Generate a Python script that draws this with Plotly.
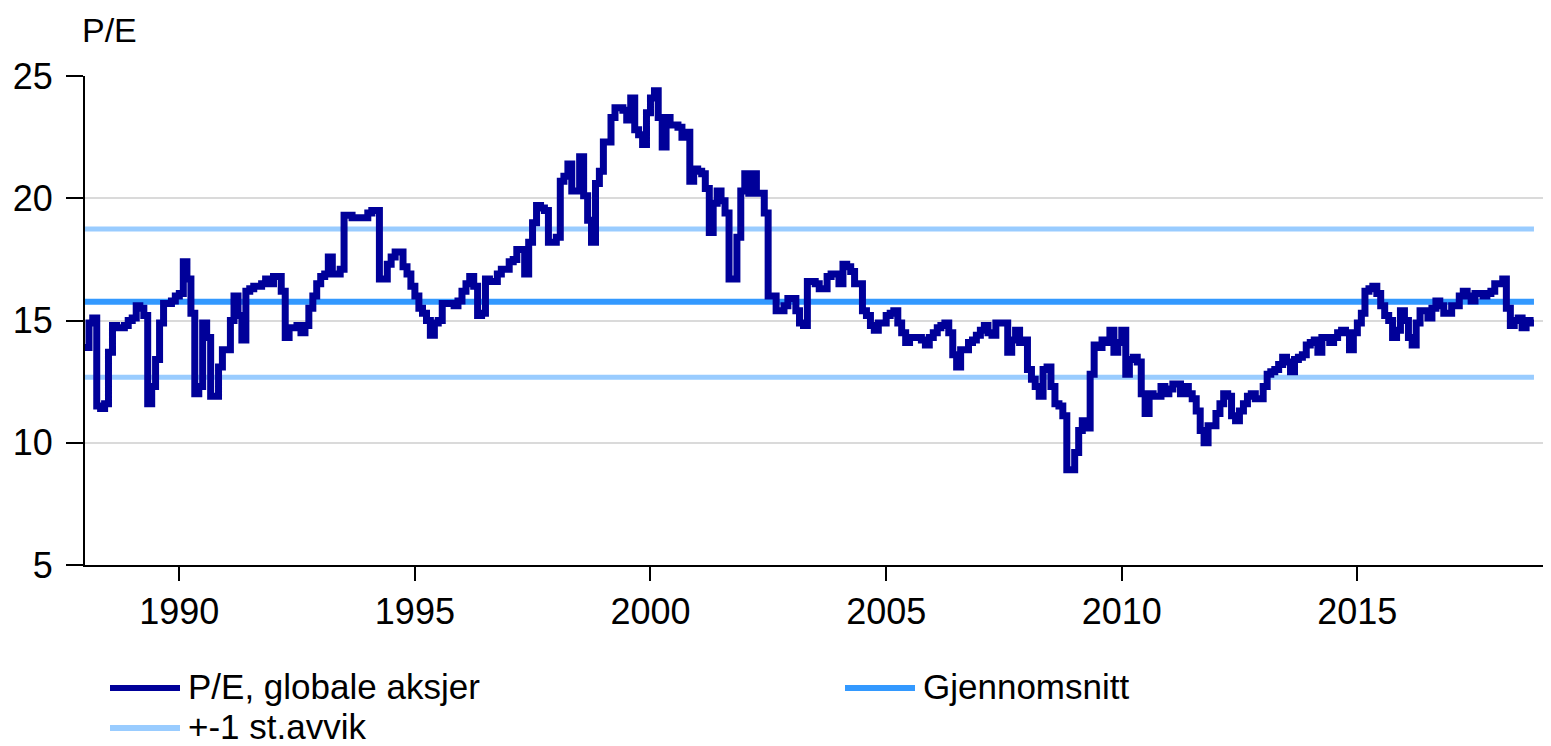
import pandas as pd
import plotly.graph_objects as go

# P/E, globale aksjer - monthly, Jan 1988 .. Oct 2018
pe_values = [
    13.9, 14.9, 15.1, 11.5, 11.4, 11.6, 13.7, 14.8, 14.7, 14.7, 14.8, 15.0,  # 1988
    15.1, 15.6, 15.5, 15.2, 11.6, 12.3, 13.4, 14.9, 15.7, 15.7, 15.8, 16.0,  # 1989
    16.1, 17.4, 16.7, 15.3, 12.0, 12.3, 14.9, 14.3, 11.9, 11.9, 13.1, 13.8,  # 1990
    13.8, 15.0, 16.0, 15.2, 14.2, 16.2, 16.3, 16.4, 16.4, 16.5, 16.7, 16.5,  # 1991
    16.8, 16.8, 16.2, 14.3, 14.7, 14.7, 14.8, 14.5, 14.8, 15.5, 16.0, 16.5,  # 1992
    16.8, 16.9, 17.6, 16.9, 16.9, 17.1, 19.3, 19.3, 19.2, 19.2, 19.2, 19.2,  # 1993
    19.4, 19.5, 19.5, 16.7, 16.7, 17.3, 17.6, 17.8, 17.8, 17.2, 16.9, 16.4,  # 1994
    16.0, 15.5, 15.3, 15.0, 14.4, 14.9, 15.0, 15.7, 15.7, 15.7, 15.6, 15.8,  # 1995
    16.2, 16.5, 16.8, 16.4, 15.2, 15.3, 16.7, 16.6, 16.6, 16.9, 17.1, 17.1,  # 1996
    17.4, 17.5, 17.9, 17.9, 16.9, 18.2, 19.0, 19.7, 19.6, 19.5, 18.2, 18.2,  # 1997
    18.4, 20.7, 20.9, 21.4, 20.3, 20.3, 21.7, 20.1, 19.1, 18.2, 20.6, 21.1,  # 1998
    22.3, 22.3, 23.3, 23.7, 23.7, 23.6, 23.2, 24.1, 22.8, 22.6, 22.2, 23.5,  # 1999
    24.1, 24.4, 23.3, 22.1, 23.3, 23.0, 23.0, 22.9, 22.5, 22.7, 20.7, 21.2,  # 2000
    21.1, 21.0, 20.4, 18.6, 19.8, 20.3, 19.9, 19.4, 16.7, 16.7, 18.4, 20.3,  # 2001
    21.0, 20.2, 21.0, 20.2, 20.2, 19.4, 16.0, 16.0, 15.4, 15.4, 15.6, 15.9,  # 2002
    15.9, 15.4, 14.9, 14.8, 16.6, 16.6, 16.5, 16.3, 16.3, 16.8, 16.9, 16.9,  # 2003
    16.5, 17.3, 17.2, 17.0, 16.5, 16.5, 15.4, 15.2, 14.8, 14.6, 14.9, 14.9,  # 2004
    15.2, 15.3, 15.4, 14.9, 14.5, 14.1, 14.3, 14.3, 14.3, 14.2, 14.0, 14.3,  # 2005
    14.5, 14.7, 14.8, 14.9, 14.5, 13.6, 13.1, 13.8, 13.8, 14.1, 14.2, 14.4,  # 2006
    14.6, 14.8, 14.5, 14.4, 14.9, 14.9, 14.9, 13.7, 14.2, 14.6, 14.1, 14.2,  # 2007
    13.0, 12.6, 12.3, 11.9, 13.0, 13.1, 12.3, 11.6, 11.5, 11.1, 8.9, 8.9,    # 2008
    9.6, 10.5, 10.9, 10.6, 12.8, 14.0, 13.9, 14.2, 14.1, 14.6, 13.7, 14.1,   # 2009
    14.6, 12.8, 13.4, 13.5, 13.3, 12.0, 11.2, 12.0, 11.9, 11.9, 12.3, 12.0,  # 2010
    12.2, 12.4, 12.4, 12.0, 12.3, 12.0, 11.8, 11.3, 10.5, 10.0, 10.7, 10.7,  # 2011
    11.2, 11.6, 12.0, 11.9, 11.1, 10.9, 11.3, 11.6, 11.9, 12.0, 11.8, 11.8,  # 2012
    12.3, 12.8, 12.9, 13.0, 13.2, 13.5, 13.3, 12.9, 13.4, 13.5, 13.6, 14.0,  # 2013
    14.1, 14.2, 13.7, 14.3, 14.3, 14.1, 14.3, 14.5, 14.6, 14.5, 13.8, 14.5,  # 2014
    14.9, 15.3, 16.2, 16.3, 16.4, 16.1, 15.6, 15.2, 15.0, 14.3, 14.6, 15.4,  # 2015
    15.0, 14.3, 14.0, 14.9, 15.4, 15.4, 15.1, 15.5, 15.8, 15.6, 15.3, 15.3,  # 2016
    15.6, 15.6, 16.0, 16.2, 16.0, 15.8, 16.1, 16.1, 16.0, 16.1, 16.2, 16.5,  # 2017
    16.5, 16.7, 15.5, 14.8, 15.0, 15.1, 14.7, 15.0, 14.9, 14.9,              # 2018
]
mean_value = 15.77
std_band = [12.68, 18.74]

year_ticks = [1990, 1995, 2000, 2005, 2010, 2015]
y_ticks = [5, 10, 15, 20, 25]

dates = pd.date_range("1988-01-01", periods=len(pe_values), freq="MS")
span = [dates[0], dates[-1]]

NAVY = "#000099"
MEAN = "#3399FF"
BAND = "#99CCFF"
FONT = "Liberation Sans, Arial"

# page body has an 8px margin, so the figure is made 8px smaller
W, H = 1543, 738
L, R, T, B = 77, 0, 68, 181


def px(x):
    # x in reference-page pixels -> paper coords
    return (x - 85) / (W - L - R)


def py(y):
    return (565 - y) / (H - T - B)


fig = go.Figure()
for lvl in std_band:
    fig.add_trace(go.Scatter(x=span, y=[lvl, lvl], mode="lines",
                             line=dict(color=BAND, width=5), showlegend=False))
fig.add_trace(go.Scatter(x=span, y=[mean_value, mean_value], mode="lines",
                         line=dict(color=MEAN, width=6), showlegend=False))
fig.add_trace(go.Scatter(x=dates, y=pe_values, mode="lines",
                         line=dict(color=NAVY, width=7, shape="hv"),
                         showlegend=False))

# legend drawn by hand: two columns like the original
legend_items = [
    ("P/E, globale aksjer", NAVY, 110, 688),
    ("Gjennomsnitt", MEAN, 845, 688),
    ("+-1 st.avvik", BAND, 110, 728),
]
for label, color, x0, y0 in legend_items:
    fig.add_shape(type="line", xref="paper", yref="paper",
                  x0=px(x0), x1=px(x0 + 70), y0=py(y0), y1=py(y0),
                  line=dict(color=color, width=6))
    fig.add_annotation(text=label, xref="paper", yref="paper",
                       x=px(x0 + 76), y=py(y0 - 2), xanchor="left", yanchor="middle",
                       showarrow=False, font=dict(size=35, color="black", family=FONT))

fig.add_annotation(text="P/E", xref="paper", yref="paper", x=px(80), y=py(30),
                   xanchor="left", yanchor="middle", showarrow=False,
                   font=dict(size=34, color="black", family=FONT))

fig.update_layout(
    width=W, height=H,
    margin=dict(l=L, r=R, t=T, b=B),
    paper_bgcolor="white", plot_bgcolor="white",
    font=dict(family=FONT, size=36, color="black"),
    xaxis=dict(type="date", range=["1988-01-01", "2019-02-10"],
               tickvals=[f"{y}-01-01" for y in year_ticks],
               ticktext=[str(y) for y in year_ticks],
               ticks="outside", ticklen=14, tickwidth=2, tickcolor="black",
               showline=True, linecolor="black", linewidth=2,
               showgrid=False, zeroline=False),
    yaxis=dict(range=[5, 25], tickvals=y_ticks,
               ticks="outside", ticklen=17, tickwidth=2, tickcolor="black",
               ticklabelstandoff=6,
               showline=True, linecolor="black", linewidth=2,
               showgrid=True, gridcolor="#DADADA", gridwidth=2,
               zeroline=False),
)

fig.write_html("out.html")
